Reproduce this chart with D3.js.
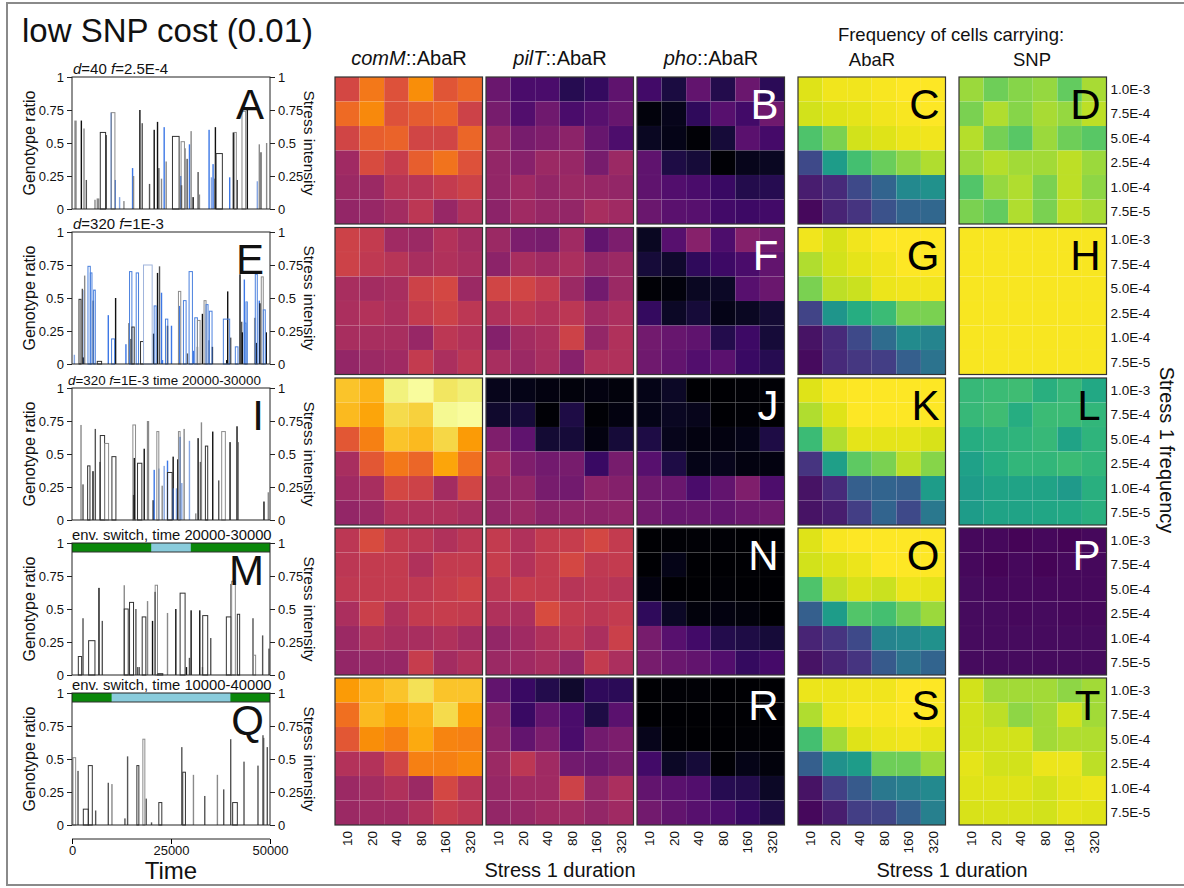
<!DOCTYPE html>
<html lang="en">
<head>
<meta charset="utf-8">
<title>low SNP cost</title>
<script src="https://cdn.jsdelivr.net/npm/d3@7"></script>
<style>
  body { margin: 0; background: #fff; }
  text { font-family: "Liberation Sans", Arial, sans-serif; fill: #111; }
</style>
</head>
<body>
<script>
// axis categories
var durations = ["10", "20", "40", "80", "160", "320"];
var freqs = ["1.0E-3", "7.5E-4", "5.0E-4", "2.5E-4", "1.0E-4", "7.5E-5"];
var ratioTicks = [0, 0.25, 0.5, 0.75, 1];
var timeTicks = [0, 25000, 50000];

// heatmap values, 5 panels (rows of the figure), each 6 freq rows x 6 duration cols
var comM = [
  [[0.57,0.70,0.60,0.75,0.61,0.66],[0.67,0.74,0.60,0.63,0.65,0.55],[0.56,0.64,0.65,0.56,0.56,0.66],
   [0.43,0.58,0.53,0.64,0.69,0.60],[0.42,0.42,0.49,0.49,0.52,0.55],[0.40,0.41,0.44,0.50,0.41,0.47]],
  [[0.55,0.52,0.43,0.42,0.48,0.44],[0.55,0.51,0.49,0.45,0.47,0.45],[0.45,0.44,0.45,0.55,0.57,0.42],
   [0.46,0.48,0.46,0.52,0.55,0.50],[0.45,0.45,0.45,0.41,0.50,0.48],[0.40,0.42,0.43,0.52,0.46,0.50]],
  [[0.86,0.83,0.96,0.99,0.93,0.95],[0.84,0.80,0.91,0.89,0.98,0.99],[0.62,0.72,0.86,0.84,0.90,0.78],
   [0.45,0.62,0.70,0.66,0.80,0.68],[0.43,0.45,0.57,0.55,0.44,0.56],[0.40,0.42,0.48,0.47,0.47,0.45]],
  [[0.50,0.58,0.52,0.50,0.47,0.50],[0.50,0.52,0.52,0.47,0.52,0.52],[0.51,0.52,0.52,0.51,0.53,0.55],
   [0.46,0.54,0.47,0.52,0.53,0.52],[0.42,0.47,0.45,0.45,0.47,0.44],[0.40,0.41,0.41,0.53,0.44,0.47]],
  [[0.78,0.83,0.86,0.92,0.86,0.86],[0.68,0.84,0.80,0.83,0.91,0.79],[0.62,0.75,0.72,0.81,0.73,0.72],
   [0.48,0.48,0.56,0.72,0.72,0.74],[0.42,0.44,0.47,0.42,0.57,0.49],[0.42,0.43,0.43,0.47,0.53,0.50]]
];
var pilT = [
  [[0.30,0.22,0.22,0.14,0.17,0.27],[0.33,0.24,0.31,0.22,0.25,0.29],[0.40,0.33,0.35,0.38,0.29,0.23],
   [0.40,0.37,0.42,0.41,0.33,0.42],[0.40,0.43,0.40,0.42,0.41,0.40],[0.38,0.43,0.41,0.40,0.45,0.43]],
  [[0.42,0.34,0.33,0.43,0.28,0.34],[0.38,0.45,0.43,0.46,0.40,0.42],[0.56,0.56,0.52,0.42,0.32,0.42],
   [0.47,0.50,0.48,0.50,0.43,0.46],[0.36,0.44,0.46,0.55,0.40,0.47],[0.45,0.42,0.45,0.37,0.47,0.47]],
  [[0.05,0.04,0.03,0.02,0.03,0.02],[0.08,0.10,0.01,0.12,0.01,0.03],[0.35,0.27,0.09,0.10,0.03,0.10],
   [0.43,0.35,0.32,0.33,0.18,0.33],[0.40,0.40,0.33,0.32,0.38,0.36],[0.40,0.42,0.38,0.39,0.38,0.39]],
  [[0.52,0.47,0.52,0.53,0.57,0.52],[0.53,0.48,0.52,0.57,0.51,0.52],[0.50,0.53,0.52,0.49,0.50,0.49],
   [0.47,0.46,0.58,0.52,0.50,0.52],[0.40,0.43,0.47,0.50,0.46,0.54],[0.42,0.43,0.45,0.40,0.52,0.46]],
  [[0.28,0.18,0.13,0.08,0.16,0.15],[0.36,0.18,0.28,0.22,0.12,0.26],[0.38,0.28,0.34,0.22,0.32,0.34],
   [0.42,0.50,0.43,0.32,0.30,0.33],[0.41,0.43,0.43,0.55,0.40,0.46],[0.40,0.41,0.43,0.43,0.40,0.43]]
];
var pho = [
  [[0.20,0.11,0.28,0.13,0.30,0.15],[0.02,0.05,0.16,0.25,0.20,0.31],[0.06,0.04,0.01,0.10,0.26,0.21],
   [0.27,0.12,0.10,0.01,0.05,0.06],[0.27,0.24,0.22,0.18,0.13,0.14],[0.30,0.26,0.25,0.20,0.19,0.20]],
  [[0.06,0.25,0.37,0.23,0.36,0.32],[0.10,0.08,0.16,0.19,0.22,0.28],[0.01,0.02,0.06,0.07,0.25,0.30],
   [0.17,0.07,0.10,0.04,0.06,0.09],[0.32,0.29,0.27,0.13,0.19,0.10],[0.31,0.28,0.24,0.26,0.18,0.14]],
  [[0.04,0.07,0.00,0.00,0.01,0.01],[0.04,0.06,0.05,0.00,0.01,0.00],[0.12,0.05,0.03,0.03,0.04,0.12],
   [0.25,0.12,0.04,0.05,0.03,0.03],[0.31,0.30,0.22,0.28,0.35,0.23],[0.32,0.29,0.29,0.28,0.30,0.31]],
  [[0.00,0.01,0.01,0.01,0.00,0.00],[0.00,0.04,0.00,0.00,0.00,0.00],[0.03,0.00,0.00,0.01,0.00,0.00],
   [0.16,0.07,0.02,0.03,0.02,0.00],[0.33,0.25,0.20,0.13,0.12,0.10],[0.33,0.30,0.28,0.24,0.17,0.21]],
  [[0.00,0.01,0.01,0.00,0.00,0.00],[0.00,0.00,0.00,0.00,0.00,0.00],[0.05,0.01,0.00,0.00,0.01,0.01],
   [0.20,0.07,0.10,0.01,0.04,0.02],[0.28,0.26,0.24,0.14,0.13,0.07],[0.32,0.28,0.25,0.23,0.18,0.12]]
];
var abaR = [
  [[0.95,0.98,0.98,0.99,1.00,1.00],[0.93,0.95,0.96,0.98,0.99,1.00],[0.72,0.80,0.93,0.95,0.97,0.98],
   [0.22,0.55,0.70,0.77,0.83,0.88],[0.08,0.12,0.22,0.32,0.47,0.50],[0.02,0.10,0.15,0.25,0.32,0.33]],
  [[0.98,0.94,0.98,1.00,1.00,1.00],[0.88,0.93,0.96,0.98,1.00,1.00],[0.80,0.90,0.92,0.97,0.98,0.98],
   [0.20,0.52,0.62,0.68,0.80,0.80],[0.05,0.12,0.22,0.35,0.48,0.45],[0.03,0.12,0.16,0.18,0.30,0.38]],
  [[0.95,0.99,1.00,1.00,1.00,1.00],[0.88,0.95,1.00,1.00,1.00,1.00],[0.68,0.88,0.96,0.96,0.96,0.94],
   [0.15,0.56,0.75,0.80,0.90,0.82],[0.05,0.12,0.30,0.32,0.30,0.55],[0.05,0.08,0.18,0.32,0.22,0.40]],
  [[0.95,0.99,1.00,1.00,1.00,1.00],[0.93,0.95,0.97,1.00,1.00,1.00],[0.72,0.90,0.94,0.92,0.97,0.96],
   [0.30,0.55,0.73,0.70,0.78,0.85],[0.10,0.15,0.22,0.45,0.47,0.50],[0.05,0.10,0.15,0.28,0.38,0.32]],
  [[0.97,0.97,0.98,0.98,1.00,1.00],[0.88,0.97,0.99,0.99,1.00,1.00],[0.70,0.86,0.95,0.97,0.98,0.96],
   [0.30,0.50,0.55,0.78,0.78,0.85],[0.05,0.18,0.28,0.40,0.43,0.47],[0.02,0.08,0.18,0.20,0.30,0.43]]
];
var snp = [
  [[0.85,0.78,0.82,0.84,0.76,0.87],[0.80,0.88,0.82,0.87,0.84,0.90],[0.89,0.79,0.74,0.85,0.78,0.74],
   [0.85,0.89,0.86,0.86,0.90,0.85],[0.73,0.84,0.88,0.80,0.90,0.83],[0.80,0.76,0.88,0.80,0.90,0.87]],
  [[0.99,0.99,0.99,0.99,0.99,0.99],[0.99,0.99,0.99,0.99,0.99,0.99],[0.99,0.99,0.99,0.99,0.99,0.99],
   [0.99,0.99,0.99,0.99,0.99,0.99],[0.99,0.99,0.99,0.99,0.99,0.99],[0.99,0.99,0.99,0.99,0.99,0.99]],
  [[0.67,0.68,0.69,0.63,0.67,0.60],[0.67,0.69,0.62,0.68,0.68,0.66],[0.62,0.64,0.65,0.67,0.58,0.65],
   [0.57,0.62,0.66,0.66,0.68,0.66],[0.55,0.58,0.58,0.58,0.54,0.63],[0.55,0.58,0.58,0.59,0.60,0.63]],
  [[0.02,0.02,0.01,0.02,0.01,0.02],[0.02,0.01,0.02,0.01,0.02,0.02],[0.03,0.02,0.02,0.02,0.02,0.02],
   [0.03,0.03,0.02,0.03,0.02,0.02],[0.03,0.03,0.03,0.03,0.03,0.03],[0.03,0.03,0.03,0.03,0.03,0.03]],
  [[0.93,0.86,0.86,0.86,0.83,0.86],[0.93,0.90,0.83,0.86,0.93,0.86],[0.93,0.93,0.93,0.86,0.88,0.88],
   [0.96,0.93,0.93,0.97,0.97,0.90],[0.95,0.95,0.95,0.93,0.96,0.97],[0.94,0.94,0.94,0.93,0.96,0.95]]
];

// time-series bars: [time, ratio, width (time units, 0 = thin), kind]
var barsA = [[588,0.67,600,"g"],[2184,0.67,0,"k"],[2856,0.61,0,"g"],[3444,0.22,0,"d"],[5628,0.07,0,"g"],[6216,0.08,0,"g"],
  [6552,0.08,0,"g"],[7140,0.58,1344,"o"],[8484,0.56,0,"d"],[9744,0.73,0,"b"],[9912,0.73,924,"og"],[10752,0.22,0,"b"],
  [11844,0.09,0,"lb"],[12936,0.06,0,"g"],[15120,0.31,0,"b"],[15372,0.25,0,"g"],[16968,0.75,0,"k"],[17556,0.65,0,"d"],
  [19404,0.19,0,"d"],[20580,0.60,0,"k"],[21420,0.66,0,"k"],[21756,0.31,0,"d"],[22428,0.23,0,"g"],[23100,0.62,0,"b"],
  [23604,0.36,0,"g"],[25368,0.55,1680,"o"],[27552,0.51,840,"og"],[27300,0.25,0,"b"],[27468,0.18,0,"k"],[28392,0.46,0,"g"],
  [28896,0.38,0,"d"],[29484,0.49,0,"b"],[29904,0.59,0,"g"],[30408,0.09,0,"k"],[31668,0.28,0,"d"],[32004,0.11,0,"g"],
  [34440,0.60,0,"b"],[35028,0.24,0,"lb"],[35448,0.34,0,"b"],[35868,0.23,0,"g"],[36036,0.62,0,"k"],[36372,0.42,1596,"o"],
  [39648,0.24,0,"b"],[40572,0.58,0,"k"],[40992,0.58,504,"og"],[41496,0.22,0,"k"],[42924,0.74,924,"og"],[44100,0.75,0,"k"],
  [46620,0.21,0,"lb"],[47124,0.49,0,"g"],[47544,0.43,0,"d"],[48972,0.50,0,"g"]];
var barsE = [[420,0.07,0,"lb"],[1764,0.49,504,"o"],[2436,0.57,0,"d"],[2688,0.05,0,"k"],[2940,0.56,0,"b"],[3024,0.67,0,"g"],
  [4032,0.74,588,"ob"],[4620,0.69,420,"ob"],[5208,0.48,0,"k"],[5460,0.56,420,"ob"],[6384,0.02,1092,"o"],[8988,0.37,0,"b"],
  [9996,0.19,756,"ob"],[10836,0.50,0,"k"],[13440,0.15,0,"b"],[14280,0.31,0,"k"],[14700,0.19,0,"d"],[14532,0.70,588,"ob"],
  [15120,0.28,588,"o"],[16212,0.69,588,"ob"],[17304,0.17,756,"o"],[18060,0.75,2184,"olb"],[20412,0.23,0,"k"],
  [20748,0.44,504,"ob"],[21420,0.69,0,"k"],[21924,0.74,0,"d"],[22428,0.54,0,"b"],[22680,0.03,0,"b"],[23604,0.34,588,"ob"],
  [23940,0.29,0,"k"],[24948,0.29,0,"b"],[26880,0.55,588,"og"],[26964,0.44,0,"b"],[28140,0.48,672,"ob"],[28980,0.08,0,"d"],
  [29568,0.70,840,"ob"],[30492,0.10,0,"b"],[30996,0.35,672,"ob"],[31500,0.13,0,"d"],[31668,0.33,672,"og"],[32760,0.38,0,"k"],
  [33348,0.48,504,"og"],[33852,0.45,504,"ob"],[34440,0.18,0,"d"],[34692,0.40,672,"ob"],[35280,0.13,0,"k"],
  [38220,0.34,1596,"ob"],[38892,0.03,0,"k"],[39144,0.55,0,"k"],[39900,0.20,0,"d"],[41244,0.13,672,"ob"],[42252,0.68,0,"k"],
  [42672,0.32,0,"d"],[42840,0.24,0,"k"],[43344,0.64,0,"b"],[43512,0.31,420,"ob"],[43932,0.47,336,"ob"],[45948,0.35,504,"g"],
  [46368,0.16,0,"k"],[46284,0.68,504,"ob"],[47124,0.48,0,"b"],[47292,0.46,0,"k"],[47796,0.66,504,"og"],[48300,0.41,504,"ob"],
  [48888,0.24,0,"k"]];
var barsI = [[2100,0.72,0,"g"],[2604,0.27,0,"d"],[3948,0.41,588,"o"],[5124,0.37,0,"k"],[5712,0.69,0,"d"],[6888,0.44,0,"d"],
  [7140,0.64,1092,"o"],[8232,0.58,1008,"og"],[10080,0.48,1008,"o"],[15372,0.19,0,"k"],[15372,0.72,672,"og"],[15540,0.47,0,"k"],
  [16548,0.43,1092,"o"],[18060,0.54,0,"k"],[18900,0.75,588,"g"],[20328,0.15,0,"k"],[20580,0.38,0,"b"],[21420,0.67,504,"og"],
  [21756,0.39,0,"lb"],[22596,0.26,0,"g"],[23100,0.41,0,"lb"],[23940,0.45,0,"b"],[24108,0.36,1176,"o"],[25368,0.48,0,"k"],
  [25284,0.24,0,"b"],[26208,0.24,0,"lb"],[26544,0.46,0,"k"],[26880,0.67,420,"og"],[27132,0.63,0,"b"],[27552,0.28,0,"lb"],
  [28140,0.69,0,"g"],[29484,0.60,0,"lb"],[31080,0.05,0,"g"],[31668,0.62,0,"k"],[32256,0.44,0,"d"],[32508,0.74,0,"g"],
  [33684,0.56,588,"o"],[35364,0.67,0,"k"],[36876,0.30,0,"d"],[37800,0.67,924,"og"],[39732,0.59,0,"k"],[41496,0.71,0,"k"],
  [41748,0.59,0,"d"],[48300,0.14,0,"k"],[49392,0.21,0,"g"]];
var barsM = [[1596,0.14,840,"o"],[2604,0.43,0,"d"],[4200,0.26,1596,"o"],[6636,0.66,0,"k"],[7476,0.41,0,"d"],[13020,0.68,0,"g"],
  [13188,0.50,1008,"o"],[14532,0.55,1008,"o"],[15960,0.50,0,"d"],[16380,0.06,0,"d"],[16800,0.06,0,"d"],[17724,0.44,924,"o"],
  [18900,0.56,0,"g"],[20160,0.41,0,"k"],[20832,0.63,0,"k"],[21000,0.68,588,"og"],[21672,0.01,1260,"o"],[23940,0.47,0,"g"],
  [26040,0.50,0,"k"],[27300,0.62,1260,"o"],[28728,0.06,0,"k"],[29484,0.13,0,"d"],[29904,0.49,0,"k"],[32088,0.49,0,"k"],
  [32760,0.06,0,"g"],[33012,0.45,1260,"o"],[34860,0.28,0,"d"],[38976,0.44,1260,"o"],[39900,0.69,0,"g"],[40320,0.71,924,"og"],
  [41748,0.46,588,"o"],[45528,0.43,0,"d"],[45696,0.15,672,"og"],[47964,0.30,0,"d"],[49560,0.20,0,"d"]];
var barsQ = [[252,0.51,672,"og"],[1344,0.41,0,"d"],[2856,0.12,1260,"o"],[4116,0.45,1008,"o"],[5796,0.11,0,"d"],[8988,0.32,0,"d"],
  [9912,0.31,0,"g"],[13188,0.05,0,"d"],[13860,0.52,0,"d"],[16380,0.45,504,"o"],[17892,0.65,504,"og"],[18564,0.20,0,"d"],
  [19908,0.02,0,"d"],[21924,0.17,756,"o"],[27552,0.59,0,"d"],[27972,0.40,672,"o"],[30492,0.38,0,"g"],[33348,0.22,0,"d"],
  [36540,0.38,0,"g"],[38136,0.27,0,"d"],[39900,0.65,0,"d"],[40572,0.17,1176,"o"],[43260,0.48,0,"d"],[46788,0.45,0,"d"],
  [48048,0.68,0,"d"],[48216,0.66,0,"d"],[49140,0.59,0,"d"]];
// env. switch windows (stress 2 period) for panels M and Q
var switchM = [20000, 30000];
var switchQ = [10000, 40000];

var W = 1184, H = 888;
var svg = d3.select("body").append("svg").attr("width", W).attr("height", H);

svg.append("rect").attr("x", 7).attr("y", 3).attr("width", 1190).attr("height", 882)
  .attr("fill", "none").attr("stroke", "#8a8a8a").attr("stroke-width", 2);

svg.append("text").attr("x", 22).attr("y", 42).attr("font-size", "33px").text("low SNP cost (0.01)");

// ---------- left time-series panels ----------
var kinds = {
  o:   {fill: "none", stroke: "#333"},
  og:  {fill: "none", stroke: "#8c8c8c"},
  ob:  {fill: "none", stroke: "#4a80de"},
  olb: {fill: "none", stroke: "#9fb4dc"},
  k:   {fill: "#111", stroke: "none"},
  d:   {fill: "#555", stroke: "none"},
  g:   {fill: "#8a8a8a", stroke: "none"},
  b:   {fill: "#3d78e6", stroke: "none"},
  lb:  {fill: "#86a6e2", stroke: "none"}
};

var left = [
  {top: 77, bars: barsA, label: "A", title: [["d", true], ["=40 ", false], ["f", true], ["=2.5E-4", false]], tx: 73, fs: 15},
  {top: 232, bars: barsE, label: "E", title: [["d", true], ["=320 ", false], ["f", true], ["=1E-3", false]], tx: 73, fs: 15},
  {top: 388, bars: barsI, label: "I", title: [["d", true], ["=320 ", false], ["f", true], ["=1E-3 time 20000-30000", false]], tx: 68, fs: 13.4},
  {top: 543, bars: barsM, label: "M", title: [["env. switch, time 20000-30000", false]], tx: 72, fs: 14.8, sw: switchM},
  {top: 693, bars: barsQ, label: "Q", title: [["env. switch, time 10000-40000", false]], tx: 72, fs: 14.8, sw: switchQ}
];
var px0 = 72, px1 = 270, ph = 132;
var xT = d3.scaleLinear().domain([0, 50000]).range([px0, px1]);

left.forEach(function(p) {
  var g = svg.append("g");
  var y = d3.scaleLinear().domain([0, 1]).range([p.top + ph, p.top]);

  p.bars.filter(function(d) { return kinds[d[3]].fill != "none"; }).concat(
    p.bars.filter(function(d) { return kinds[d[3]].fill == "none"; }))
   .forEach(function(d) {
    var k = kinds[d[3]];
    var w = d[2] ? xT(d[2]) - xT(0) : 1.4;
    g.append("rect")
      .attr("x", xT(d[0]))
      .attr("y", y(d[1]))
      .attr("width", w)
      .attr("height", y(0) - y(d[1]))
      .attr("fill", k.fill)
      .attr("stroke", k.stroke)
      .attr("stroke-width", 1);
  });

  if (p.sw) {
    var bh = 9;
    g.append("rect").attr("x", px0).attr("y", p.top).attr("width", px1 - px0).attr("height", bh).attr("fill", "#0b870b");
    g.append("rect").attr("x", xT(p.sw[0])).attr("y", p.top).attr("width", xT(p.sw[1]) - xT(p.sw[0])).attr("height", bh).attr("fill", "#8accdc");
    g.append("line").attr("x1", px0).attr("x2", px1).attr("y1", p.top + bh).attr("y2", p.top + bh).attr("stroke", "#333");
  }

  g.append("rect").attr("x", px0).attr("y", p.top).attr("width", px1 - px0).attr("height", ph)
    .attr("fill", "none").attr("stroke", "#222").attr("stroke-width", 1);

  var fmt = function(d) { return String(d); };
  var la = g.append("g").attr("transform", "translate(" + px0 + ",0)")
    .call(d3.axisLeft(y).tickValues(ratioTicks).tickFormat(fmt).tickSize(5));
  var ra = g.append("g").attr("transform", "translate(" + px1 + ",0)")
    .call(d3.axisRight(y).tickValues(ratioTicks).tickFormat(fmt).tickSize(5));
  [la, ra].forEach(function(a) {
    a.select(".domain").remove();
    a.selectAll("text").attr("font-size", "13px").attr("font-family", "Liberation Sans, Arial").attr("fill", "#111");
    a.selectAll("line").attr("stroke", "#222");
  });

  var t = g.append("text").attr("x", p.tx).attr("y", p.top - 3).attr("font-size", p.fs + "px");
  p.title.forEach(function(s) {
    t.append("tspan").attr("font-style", s[1] ? "italic" : "normal").text(s[0]);
  });

  g.append("text").attr("x", 264).attr("y", p.top + 42).attr("text-anchor", "end")
    .attr("font-size", "42px").text(p.label);

  g.append("text").attr("transform", "translate(35," + (p.top + ph / 2) + ") rotate(-90)")
    .attr("text-anchor", "middle").attr("font-size", "16px").text("Genotype ratio");
  g.append("text").attr("transform", "translate(304," + (p.top + ph / 2) + ") rotate(90)")
    .attr("text-anchor", "middle").attr("font-size", "15.5px").text("Stress intensity");
});

var xa = svg.append("g").attr("transform", "translate(0,839)")
  .call(d3.axisBottom(xT).tickValues(timeTicks).tickSize(5).tickPadding(2).tickFormat(d3.format("d")));
xa.select(".domain").attr("d", "M" + px0 + ",0H" + px1).attr("stroke", "#222");
xa.selectAll("text").attr("font-size", "13px").attr("font-family", "Liberation Sans, Arial").attr("fill", "#111");
svg.append("text").attr("x", 171).attr("y", 879).attr("text-anchor", "middle").attr("font-size", "24px").text("Time");

// ---------- heatmaps ----------
var rowTops = [77, 227.5, 378, 528, 678];
var hmH = 147;
var cols = [
  {x: 335, data: comM, interp: d3.interpolateInferno, labels: null},
  {x: 486, data: pilT, interp: d3.interpolateInferno, labels: null},
  {x: 637, data: pho, interp: d3.interpolateInferno, labels: ["B", "F", "J", "N", "R"], lc: "#fff"},
  {x: 798, data: abaR, interp: d3.interpolateViridis, labels: ["C", "G", "K", "O", "S"], lc: "#000"},
  {x: 959, data: snp, interp: d3.interpolateViridis, labels: ["D", "H", "L", "P", "T"], lc: "#000"}
];
var hmW = 147.5;
var pLabelColor = {P: "#fff"};

cols.forEach(function(c, ci) {
  var color = d3.scaleSequential(c.interp).domain([0, 1]);
  var x = d3.scaleBand().domain(durations).range([c.x, c.x + hmW]);
  rowTops.forEach(function(top, ri) {
    var y = d3.scaleBand().domain(freqs).range([top, top + hmH]);
    var g = svg.append("g");
    var cells = [];
    c.data[ri].forEach(function(row, i) {
      row.forEach(function(v, j) { cells.push({f: freqs[i], d: durations[j], v: v}); });
    });
    g.selectAll("rect").data(cells).enter().append("rect")
      .attr("x", function(d) { return x(d.d); })
      .attr("y", function(d) { return y(d.f); })
      .attr("width", x.bandwidth())
      .attr("height", y.bandwidth())
      .attr("fill", function(d) { return color(d.v); })
      .attr("stroke", "rgba(255,255,255,0.04)")
      .attr("stroke-width", 0.6);
    g.append("rect").attr("x", c.x).attr("y", top).attr("width", hmW).attr("height", hmH)
      .attr("fill", "none").attr("stroke", "#333").attr("stroke-width", 1.2);
    if (c.labels) {
      var lab = c.labels[ri];
      g.append("text").attr("x", c.x + hmW - 6).attr("y", top + 42).attr("text-anchor", "end")
        .attr("font-size", "42px").style("fill", pLabelColor[lab] || c.lc).text(lab);
    }
    if (ci == 4) {
      var ya = g.append("g").attr("transform", "translate(" + (c.x + hmW) + ",0)")
        .call(d3.axisRight(y).tickSize(0).tickPadding(4));
      ya.select(".domain").remove();
      ya.selectAll("text").attr("font-size", "13.5px").attr("font-family", "Liberation Sans, Arial").attr("fill", "#111");
    }
    if (ri == 4) {
      var xa2 = g.append("g").attr("transform", "translate(0," + (top + hmH) + ")")
        .call(d3.axisBottom(x).tickSize(0));
      xa2.select(".domain").remove();
      xa2.selectAll("text").attr("font-size", "13.5px").attr("font-family", "Liberation Sans, Arial").attr("fill", "#111")
        .attr("text-anchor", "end").attr("dy", "0.35em")
        .attr("transform", "translate(0,6) rotate(-90)").attr("x", 0).attr("y", 0);
    }
  });
});

// column titles
function colTitle(cx, it, rest) {
  var t = svg.append("text").attr("x", cx).attr("y", 65).attr("text-anchor", "middle").attr("font-size", "20px");
  t.append("tspan").attr("font-style", "italic").text(it);
  t.append("tspan").text(rest);
}
colTitle(409, "comM", "::AbaR");
colTitle(560, "pilT", "::AbaR");
colTitle(711, "pho", "::AbaR");
svg.append("text").attr("x", 951).attr("y", 41).attr("text-anchor", "middle").attr("font-size", "18.5px").text("Frequency of cells carrying:");
svg.append("text").attr("x", 872).attr("y", 66).attr("text-anchor", "middle").attr("font-size", "18.5px").text("AbaR");
svg.append("text").attr("x", 1032).attr("y", 66).attr("text-anchor", "middle").attr("font-size", "18.5px").text("SNP");

svg.append("text").attr("x", 560).attr("y", 877).attr("text-anchor", "middle").attr("font-size", "20px").text("Stress 1 duration");
svg.append("text").attr("x", 952).attr("y", 877).attr("text-anchor", "middle").attr("font-size", "20px").text("Stress 1 duration");
svg.append("text").attr("transform", "translate(1160,450) rotate(90)").attr("text-anchor", "middle")
  .attr("font-size", "20px").text("Stress 1 frequency");
</script>
</body>
</html>
